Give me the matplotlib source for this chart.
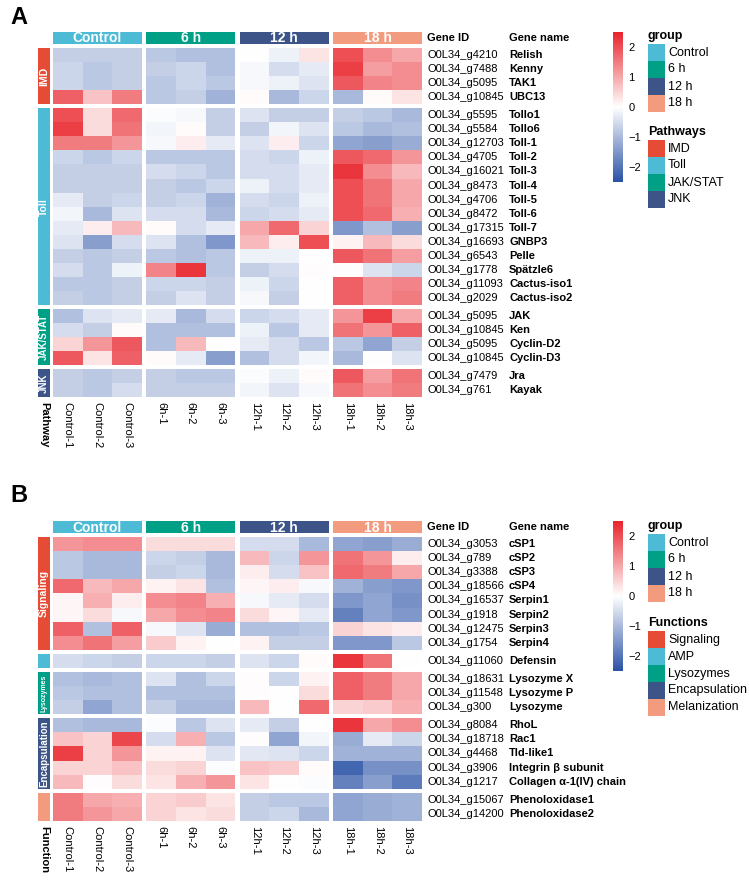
import numpy as np
import matplotlib
matplotlib.use("Agg")
import matplotlib.pyplot as plt
from matplotlib.colors import LinearSegmentedColormap, Normalize
from matplotlib.patches import Rectangle
from matplotlib.cm import ScalarMappable

plt.rcParams['font.family'] = ['Liberation Sans', 'DejaVu Sans']

W, H = 749, 882

# shared column info
samples = ["Control-1", "Control-2", "Control-3", "6h-1", "6h-2", "6h-3",
           "12h-1", "12h-2", "12h-3", "18h-1", "18h-2", "18h-3"]
groups = ["Control", "6 h", "12 h", "18 h"]
group_colors = ["#4DBBD5", "#00A087", "#3C5488", "#F39B7F"]

# panel A: immune pathways
pathways = ["IMD", "Toll", "JAK/STAT", "JNK"]
pathway_colors = ["#E64B35", "#4DBBD5", "#00A087", "#3C5488"]
pathway_sizes = [4, 14, 4, 2]
ids_a = ["O0L34_g4210", "O0L34_g7488", "O0L34_g5095", "O0L34_g10845",
         "O0L34_g5595", "O0L34_g5584", "O0L34_g12703", "O0L34_g4705", "O0L34_g16021",
         "O0L34_g8473", "O0L34_g4706", "O0L34_g8472", "O0L34_g17315", "O0L34_g16693",
         "O0L34_g6543", "O0L34_g1778", "O0L34_g11093", "O0L34_g2029",
         "O0L34_g5095", "O0L34_g10845", "O0L34_g5095", "O0L34_g10845",
         "O0L34_g7479", "O0L34_g761"]
names_a = ["Relish", "Kenny", "TAK1", "UBC13",
           "Tollo1", "Tollo6", "Toll-1", "Toll-2", "Toll-3", "Toll-4", "Toll-5", "Toll-6",
           "Toll-7", "GNBP3", "Pelle", "Spätzle6", "Cactus-iso1", "Cactus-iso2",
           "JAK", "Ken", "Cyclin-D2", "Cyclin-D3", "Jra", "Kayak"]
expr_a = np.array([
    [-0.7, -0.7, -0.7, -0.8, -0.9, -0.9, 0.0, -0.2, 0.3, 2.0, 1.3, 1.0],
    [-0.6, -0.8, -0.7, -0.7, -0.6, -0.9, -0.1, -0.5, -0.3, 2.2, 1.1, 1.3],
    [-0.6, -0.8, -0.7, -0.8, -0.6, -0.8, -0.1, -0.2, -0.4, 1.9, 1.4, 1.3],
    [1.8, 0.7, 1.5, -0.8, -0.7, -1.1, 0.05, -1.0, -0.6, -1.0, 0.05, 0.3],
    [2.0, 0.4, 1.7, -0.05, -0.1, -0.7, -0.4, -0.7, -0.7, -0.7, -0.8, -1.0],
    [2.2, 0.4, 1.6, -0.15, 0.05, -0.7, -0.7, -0.15, -0.4, -0.8, -1.0, -0.9],
    [1.5, 1.5, 1.2, -0.1, 0.2, -0.3, -0.4, 0.2, -0.6, -1.3, -1.4, -1.2],
    [-0.6, -0.8, -0.6, -0.8, -0.8, -0.8, -0.5, -0.6, -0.2, 1.9, 1.7, 1.2],
    [-0.7, -0.7, -0.7, -0.5, -0.6, -0.8, -0.5, -0.5, -0.3, 2.3, 1.3, 0.8],
    [-0.7, -0.7, -0.7, -0.7, -0.8, -0.6, -0.2, -0.5, -0.3, 2.0, 1.6, 1.0],
    [-0.3, -0.7, -0.6, -0.7, -0.6, -1.1, -0.5, -0.6, -0.2, 2.0, 1.6, 1.0],
    [-0.15, -1.0, -0.4, -0.5, -0.5, -1.0, -0.6, -0.5, -0.3, 2.0, 1.7, 0.9],
    [-0.3, 0.2, 0.8, 0.05, -0.5, -0.3, 1.0, 1.7, 0.5, -1.5, -0.9, -1.4],
    [-0.4, -1.4, -0.5, -0.4, -0.9, -1.5, 0.8, 0.2, 2.0, 0.15, 0.8, 0.4],
    [-0.7, -0.8, -0.7, -0.8, -0.9, -0.8, -0.2, -0.2, 0.0, 1.9, 1.6, 1.1],
    [-0.5, -0.8, -0.2, 1.4, 2.3, -0.8, -0.7, -0.5, 0.02, 0.02, -0.4, -0.6],
    [-0.8, -0.8, -0.7, -0.6, -0.6, -0.7, -0.2, -0.6, 0.0, 1.8, 1.3, 1.4],
    [-0.7, -0.8, -0.7, -0.7, -0.4, -0.7, -0.1, -0.7, 0.0, 1.8, 1.3, 1.5],
    [-0.9, -0.4, -0.3, -0.3, -1.0, -0.5, -0.6, -0.5, -0.3, 1.2, 2.2, 1.0],
    [-0.5, -0.7, 0.05, -0.9, -0.9, -0.9, -0.2, -0.8, -0.3, 1.6, 1.2, 1.8],
    [0.5, 1.2, 1.9, -0.9, 0.8, 0.0, -0.3, -0.5, -0.8, -0.8, -1.3, -0.7],
    [1.9, 0.3, 1.8, 0.05, -0.3, -1.4, -0.9, -0.5, -0.15, -1.0, 0.0, -0.4],
    [-0.7, -0.8, -0.7, -0.7, -0.8, -0.8, -0.05, -0.2, 0.05, 1.9, 1.1, 1.6],
    [-0.7, -0.8, -0.5, -0.7, -0.7, -0.7, -0.15, -0.4, -0.1, 1.6, 1.3, 1.5],
])

# panel B: immune functions
functions = ["Signaling", "AMP", "Lysozymes", "Encapsulation", "Melanization"]
function_colors = ["#E64B35", "#4DBBD5", "#00A087", "#3C5488", "#F39B7F"]
function_sizes = [8, 1, 3, 5, 2]
ids_b = ["O0L34_g3053", "O0L34_g789", "O0L34_g3388", "O0L34_g18566", "O0L34_g16537",
         "O0L34_g1918", "O0L34_g12475", "O0L34_g1754", "O0L34_g11060",
         "O0L34_g18631", "O0L34_g11548", "O0L34_g300",
         "O0L34_g8084", "O0L34_g18718", "O0L34_g4468", "O0L34_g3906", "O0L34_g1217",
         "O0L34_g15067", "O0L34_g14200"]
names_b = ["cSP1", "cSP2", "cSP3", "cSP4", "Serpin1", "Serpin2", "Serpin3", "Serpin4",
           "Defensin", "Lysozyme X", "Lysozyme P", "Lysozyme",
           "RhoL", "Rac1", "Tld-like1", "Integrin β subunit", "Collagen α-1(IV) chain",
           "Phenoloxidase1", "Phenoloxidase2"]
expr_b = np.array([
    [1.2, 1.3, 1.3, 0.4, 0.4, 0.4, -0.5, -0.5, -1.0, -1.3, -1.4, -1.2],
    [-0.8, -1.0, -1.0, -0.6, -0.7, -1.0, 0.8, -0.6, 1.2, 1.6, 1.2, 0.2],
    [-0.8, -1.0, -1.0, -0.7, -0.6, -1.0, 0.2, -0.5, 0.7, 1.7, 1.5, 1.0],
    [1.7, 0.8, 1.0, 0.15, 0.3, -0.9, 0.1, 0.2, -0.1, -1.1, -1.4, -1.5],
    [0.1, 0.9, 0.2, 1.3, 1.4, 0.9, -0.1, -0.3, -0.5, -1.5, -1.3, -1.6],
    [0.1, 0.4, -0.1, 1.0, 1.3, 1.4, 0.4, 0.1, -0.3, -1.8, -1.3, -1.5],
    [1.8, -0.9, 1.8, -0.1, -0.4, -1.2, -0.9, -0.9, -0.8, 0.5, 0.3, 0.2],
    [1.3, 1.6, 1.1, 0.6, 0.15, 0.0, 0.15, -0.7, -0.7, -1.5, -1.5, -0.8],
    [-0.5, -0.6, -0.7, -0.6, -0.6, -0.7, -0.4, -0.6, 0.05, 2.3, 1.6, 0.0],
    [-0.9, -1.0, -0.9, -0.4, -0.9, -0.6, 0.02, -0.6, 0.15, 1.8, 1.5, 1.0],
    [-0.8, -0.9, -0.9, -0.9, -0.9, -0.9, 0.02, 0.0, 0.4, 1.8, 1.5, 1.0],
    [-0.7, -1.3, -0.9, -0.7, -1.0, -1.0, 0.8, 0.0, 1.7, 0.5, 0.6, 0.9],
    [-0.9, -1.0, -1.0, -0.05, -0.8, -0.4, -0.3, -0.7, 0.0, 2.3, 1.0, 1.3],
    [0.7, 0.5, 2.1, -0.5, 0.9, -0.8, 0.02, -1.3, -0.15, -1.2, -0.3, -0.6],
    [2.2, 0.5, 1.2, 0.15, 0.15, -0.4, -0.35, -0.4, -0.6, -1.1, -1.1, -1.1],
    [0.5, 0.5, 0.7, 0.4, 0.5, -0.05, 0.7, 0.6, 0.05, -2.2, -1.6, -1.6],
    [0.8, 0.02, 0.4, 0.3, 0.9, 1.2, 0.3, 0.0, -0.05, -1.8, -1.4, -1.9],
    [1.5, 1.0, 0.9, 0.5, 0.6, 0.3, -0.7, -0.8, -0.8, -1.3, -1.2, -1.1],
    [1.5, 1.2, 1.0, 0.5, 0.3, 0.4, -0.7, -0.6, -1.0, -1.3, -1.2, -1.1],
])

cmap = LinearSegmentedColormap.from_list("bwr_heat", ["#2A52A6", "#FFFFFF", "#E8242C"])
norm = Normalize(vmin=-2.5, vmax=2.5)

# layout (pixels)
X0 = 53
CW = 29.6
CGAP = 4.6
RH = 14.1
ANN_X = 38
ANN_W = 12
ID_X = 427
NAME_X = 509
FS = 8

fig = plt.figure(figsize=(W / 100, H / 100), dpi=100)
ax = fig.add_axes([0, 0, 1, 1])
ax.set_xlim(0, W)
ax.set_ylim(H, 0)
ax.axis("off")


def col_left(j):
    return X0 + j * CW + (j // 3) * CGAP


def draw_panel(letter, letter_y, top, rgap, values, ids, names, blocks, block_colors, sizes,
               block_fs, ann_title, leg_title, leg_top, leg2_top):
    ax.text(10, letter_y, letter, fontsize=17, fontweight="bold", va="center", ha="left")

    # row positions
    row_top = []
    b_start = []
    r = 0
    for b, n in enumerate(sizes):
        b_start.append(top + r * RH + b * rgap)
        for k in range(n):
            row_top.append(top + (r + k) * RH + b * rgap)
        r += n
    bottom = row_top[-1] + RH

    # heatmap blocks
    r = 0
    for b, n in enumerate(sizes):
        ye = b_start[b] + np.arange(n + 1) * RH
        for g in range(4):
            xe = col_left(3 * g) + np.arange(4) * CW
            ax.pcolormesh(xe, ye, values[r:r + n, 3 * g:3 * g + 3], cmap=cmap, norm=norm,
                          shading="flat", edgecolors="none")
        r += n

    # group header bars
    for g, (name, c) in enumerate(zip(groups, group_colors)):
        x = col_left(3 * g)
        ax.add_patch(Rectangle((x, top - 16), 3 * CW, 12, color=c, lw=0))
        ax.text(x + 1.5 * CW, top - 9.5, name, color="white", fontsize=10,
                fontweight="bold", ha="center", va="center")

    # row annotation bar
    for b, n in enumerate(sizes):
        y = b_start[b]
        ax.add_patch(Rectangle((ANN_X, y), ANN_W, n * RH, color=block_colors[b], lw=0))
        if block_fs[b]:
            ax.text(ANN_X + ANN_W / 2, y + n * RH / 2, blocks[b], color="white",
                    fontsize=block_fs[b], fontweight="bold", rotation=90,
                    ha="center", va="center")

    # column labels
    for j, s in enumerate(samples):
        ax.text(col_left(j) + CW / 2, bottom + 5, s, rotation=-90, fontsize=FS,
                ha="center", va="top")
    ax.text(ANN_X + ANN_W / 2, bottom + 5, ann_title, rotation=-90, fontsize=FS,
            fontweight="bold", ha="center", va="top")

    # row labels
    ax.text(ID_X, top - 10, "Gene ID", fontsize=FS, fontweight="bold", va="center")
    ax.text(NAME_X, top - 10, "Gene name", fontsize=FS, fontweight="bold", va="center")
    for i in range(len(ids)):
        yc = row_top[i] + RH / 2
        ax.text(ID_X, yc, ids[i], fontsize=FS, va="center")
        ax.text(NAME_X, yc, names[i], fontsize=FS, fontweight="bold", va="center")

    # colorbar
    cax = fig.add_axes([613 / W, 1 - (top - 16 + 150) / H, 10 / W, 150 / H])
    cb = fig.colorbar(ScalarMappable(norm=norm, cmap=cmap), cax=cax, ticks=[-2, -1, 0, 1, 2])
    cb.outline.set_visible(False)
    cax.tick_params(length=0, labelsize=8, pad=4)

    # legends
    def legend(title, labels, colors, ytop):
        ax.text(648, ytop - 8, title, fontsize=9, fontweight="bold", va="center")
        for k, (lab, c) in enumerate(zip(labels, colors)):
            y = ytop + k * 17
            ax.add_patch(Rectangle((648, y), 17, 17, color=c, lw=0))
            ax.text(668, y + 8.5, lab, fontsize=9, va="center")

    legend("group", groups, group_colors, leg_top)
    legend(leg_title, blocks, block_colors, leg2_top)


draw_panel("A", 18, 48, 3.6, expr_a, ids_a, names_a, pathways, pathway_colors, pathway_sizes,
           [7.5, 7.5, 7, 7], "Pathway", "Pathways", 44, 140)
draw_panel("B", 496, 537, 4.0, expr_b, ids_b, names_b, functions, function_colors,
           function_sizes, [7.5, 0, 5, 7, 0], "Function", "Functions", 534, 631)

fig.savefig("out.png", dpi=100)
